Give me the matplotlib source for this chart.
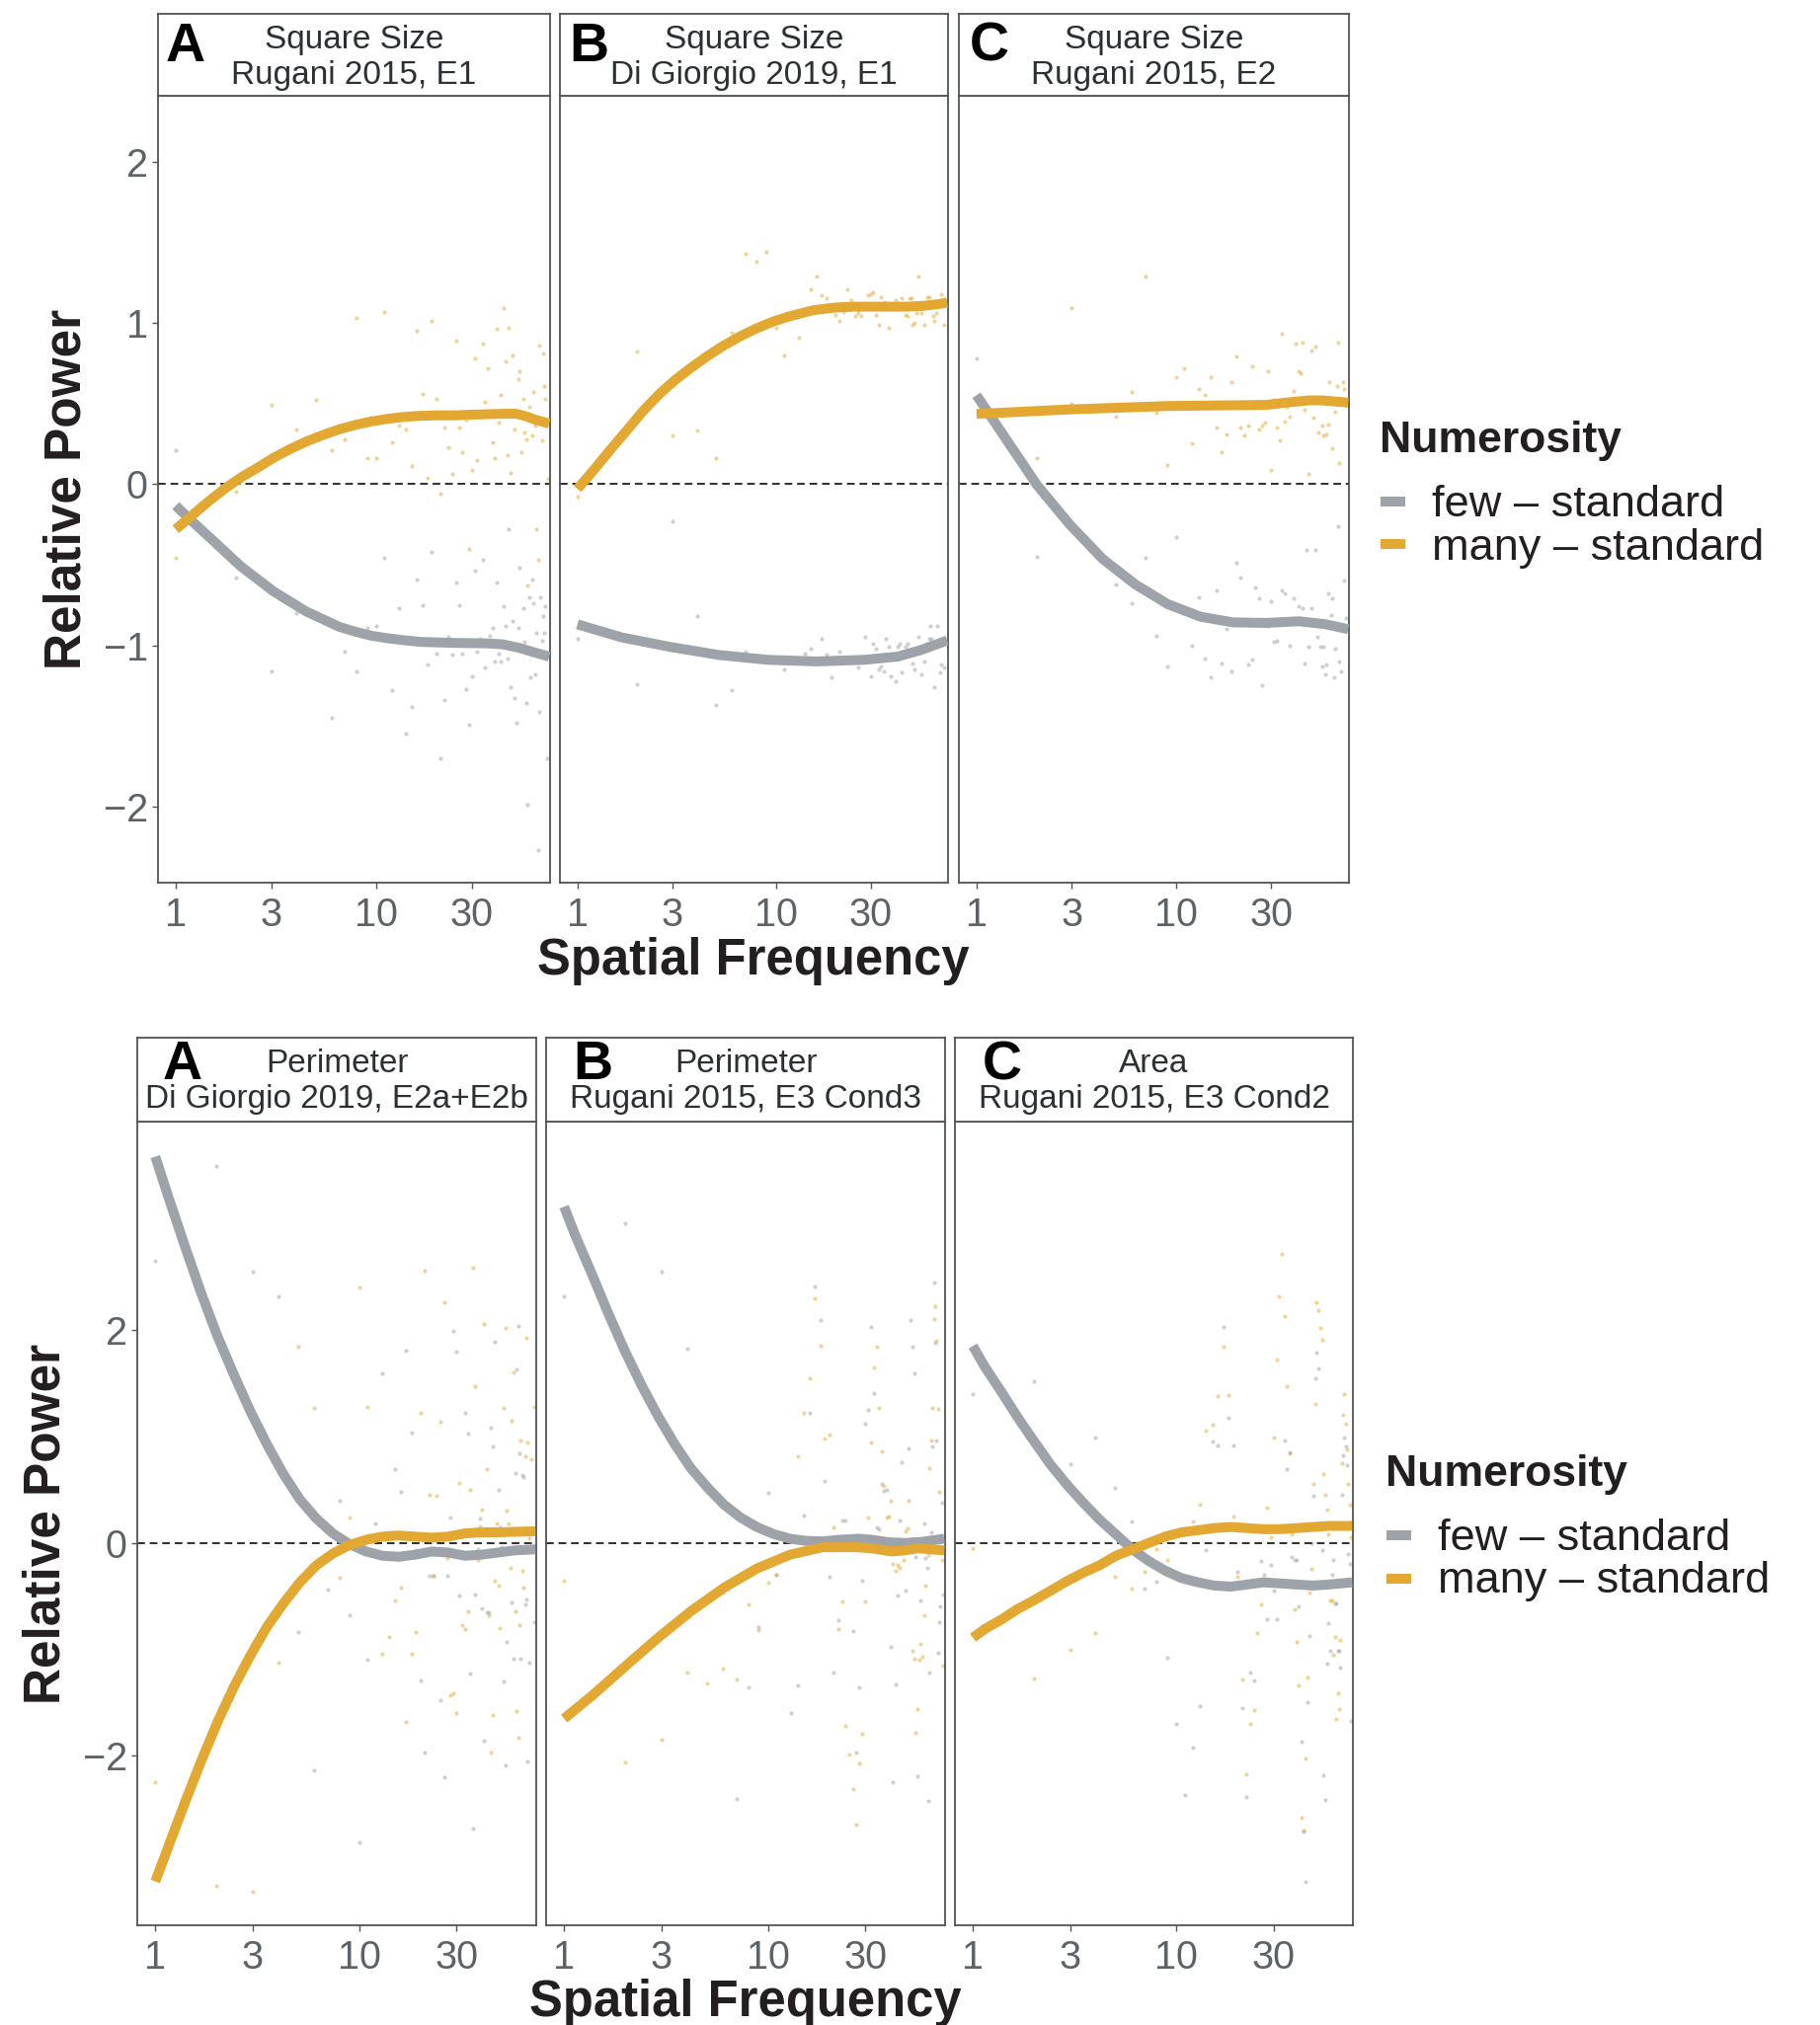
import matplotlib
matplotlib.use("Agg")
import matplotlib.pyplot as plt
from matplotlib.patches import Rectangle


FIG_W, FIG_H = 1843, 2051
DPI = 100

GREY = "#9ea3aa"
ORANGE = "#e3a832"
TICK_GREY = "#5c6266"
FRAME = "#4f5457"
STRIP_TEXT = "#2b3032"
TEXT = "#231f20"

plt.rcParams["font.family"] = ["Liberation Sans", "DejaVu Sans"]

freq_ticks = [1, 3, 10, 30]
top_y_ticks = [-2, -1, 0, 1, 2]
bottom_y_ticks = [-2, 0, 2]
legend_title = "Numerosity"
legend_labels = ["few \u2013 standard", "many \u2013 standard"]

# ---------------- top row: square size ----------------
top_titles = [("Square Size", "Rugani 2015, E1"),
              ("Square Size", "Di Giorgio 2019, E1"),
              ("Square Size", "Rugani 2015, E2")]

sqA_few_line = [(1.0, -0.134), (1.2, -0.228), (1.45, -0.322), (1.75, -0.416), (2.11, -0.51),
                (2.55, -0.588), (3.08, -0.666), (3.72, -0.729), (4.49, -0.791), (5.42, -0.838),
                (6.53, -0.885), (7.89, -0.916), (9.5, -0.941), (11.5, -0.957), (13.9, -0.969),
                (16.7, -0.979), (24.4, -0.985), (35.5, -0.988), (42.9, -0.994), (51.8, -1.016),
                (60, -1.04), (73, -1.07)]
sqA_many_line = [(1.0, -0.28), (1.2, -0.197), (1.45, -0.11), (1.75, -0.03), (2.11, 0.04),
                 (2.55, 0.10), (3.08, 0.163), (3.72, 0.217), (4.49, 0.264), (5.42, 0.304),
                 (6.53, 0.339), (7.89, 0.367), (9.5, 0.389), (11.5, 0.405), (13.9, 0.417),
                 (16.7, 0.423), (20.2, 0.426), (24.4, 0.426), (29.4, 0.43), (35.5, 0.433),
                 (42.9, 0.436), (49.9, 0.436), (56, 0.42), (62.5, 0.398), (73, 0.375)]
sqA_few_pts = [(1, 0.21), (2, -0.58), (3, -1.16), (4, -0.80), (6, -1.45), (7, -1.04), (8, -1.16),
               (9, -0.89), (10, -0.88), (11, -0.46), (12, -1.28), (13, -0.77), (14, -1.55),
               (15, -1.38), (16, -0.59), (17, -0.75), (18, -1.12), (19, -0.42), (20, -1.05),
               (21, -1.70), (22, -1.34), (23, -0.95), (24, -1.06), (25, -0.61), (26, -0.75),
               (27, -1.05), (28, -1.27), (29, -1.49), (30, -1.19), (31, -0.54), (32, -1.04),
               (33, -0.96), (34, -0.47), (35, -1.14), (37, -0.94), (38, -0.89), (39, -1.10),
               (40, -0.61), (41, -1.05), (42, -1.10), (43, -0.76), (44, -0.88), (45, -1.08),
               (46, -0.28), (47, -1.26), (48, -0.85), (49, -1.33), (50, -1.48), (51, -0.89),
               (52, -0.52), (54, -0.77), (55, -0.98), (56, -1.36), (57, -1.99), (58, -0.70),
               (59, -1.20), (60, -0.59), (61, -0.74), (62, -1.18), (63, -0.92), (64, -2.27),
               (65, -1.41), (66, -0.70), (67, -0.97), (68, -0.82), (69, -0.92), (70, -0.76),
               (71, -1.70)]
sqA_many_pts = [(1, -0.46), (2, -0.05), (3, 0.49), (4, 0.34), (5, 0.52), (6, 0.21), (7, 0.28),
                (8, 1.03), (9, 0.16), (10, 0.16), (11, 1.07), (12, 0.26), (13, 0.36), (14, 0.34),
                (15, 0.11), (16, 0.95), (17, 0.56), (18, 0.04), (19, 1.01), (20, 0.53),
                (21, -0.06), (22, 0.35), (23, 0.23), (24, 0.06), (25, 0.89), (26, 0.35),
                (27, 0.20), (28, 0.40), (29, -0.40), (30, 0.09), (31, 0.78), (32, 0.15),
                (34, 0.87), (35, 0.51), (36, 0.72), (38, 0.26), (39, 0.16), (40, 0.96),
                (41, 0.38), (42, 0.55), (43, 1.09), (44, 0.76), (45, 0.18), (46, 0.97),
                (47, 0.07), (48, 0.80), (49, 0.34), (51, 0.65), (52, 0.70), (53, 0.20),
                (54, 0.53), (55, 0.32), (56, 0.28), (57, -0.63), (58, 0.48), (60, 0.30),
                (61, 0.57), (62, 0.36), (63, -0.28), (64, -0.47), (65, 0.86), (67, 0.27),
                (68, 0.81), (69, 0.61), (70, 0.53), (72, 0.03)]

sqB_few_line = [(1.0, -0.87), (1.66, -0.95), (2.93, -1.01), (5.16, -1.06), (9.1, -1.09),
                (16, -1.10), (28, -1.09), (41, -1.07), (53.6, -1.03), (73, -0.97)]
sqB_many_line = [(1.0, -0.03), (1.2, 0.083), (1.45, 0.206), (1.76, 0.328), (2.12, 0.447),
                 (2.56, 0.553), (3.1, 0.645), (3.74, 0.722), (4.52, 0.794), (5.46, 0.859),
                 (6.6, 0.916), (7.97, 0.965), (9.6, 1.006), (11.6, 1.039), (15.4, 1.078),
                 (20, 1.095), (25, 1.10), (35, 1.10), (45, 1.10), (55, 1.105), (65, 1.115),
                 (73, 1.125)]
sqB_few_pts = [(1, -0.96), (2, -1.24), (3, -0.23), (4, -0.82), (5, -1.37), (6, -1.28), (7, -1.04),
               (11, -1.15), (14, -1.05), (15, -1.02), (17, -0.96), (18, -1.06), (19, -1.20),
               (21, -1.04), (26, -1.14), (28, -0.95), (30, -1.19), (31, -0.99), (32, -1.02),
               (33, -1.15), (34, -1.13), (35, -1.16), (36, -0.96), (37, -1.01), (38, -1.19),
               (40, -1.22), (41, -1.01), (42, -0.99), (43, -1.17), (45, -1.01), (46, -0.99),
               (48, -1.04), (49, -1.11), (50, -1.15), (52, -0.95), (54, -1.18), (56, -1.10),
               (57, -0.99), (59, -0.96), (60, -0.88), (61, -0.96), (63, -1.26), (65, -0.88),
               (67, -1.17), (68, -1.12), (70, -1.14)]
sqB_many_pts = [(1, -0.08), (2, 0.82), (3, 0.30), (4, 0.33), (5, 0.16), (6, 0.94), (7, 1.43),
                (8, 1.38), (9, 1.44), (10, 0.97), (11, 0.80), (12, 1.06), (13, 0.91), (15, 1.21),
                (16, 1.29), (17, 1.17), (18, 1.15), (20, 1.05), (21, 1.01), (22, 1.07),
                (23, 1.21), (24, 1.14), (25, 1.04), (26, 1.06), (27, 1.04), (28, 1.12),
                (29, 1.17), (30, 1.18), (31, 1.19), (32, 1.05), (33, 0.99), (34, 1.16),
                (35, 1.13), (36, 1.12), (37, 0.97), (38, 1.11), (40, 1.14), (43, 1.15),
                (45, 1.05), (46, 1.04), (47, 1.15), (48, 1.15), (49, 0.99), (50, 1.00),
                (51, 1.06), (52, 1.29), (54, 1.06), (56, 0.99), (58, 1.16), (59, 1.16),
                (62, 1.04), (63, 1.01), (64, 1.06), (68, 1.18), (70, 0.99)]

sqC_few_line = [(1.0, 0.551), (1.38, 0.294), (2.01, -0.006), (2.94, -0.252), (4.28, -0.463),
                (6.25, -0.622), (9.1, -0.745), (13.3, -0.823), (19.4, -0.858), (28.4, -0.861),
                (41.4, -0.851), (56, -0.869), (73, -0.90)]
sqC_many_line = [(1.0, 0.435), (2.94, 0.463), (9.1, 0.484), (28.4, 0.491), (35.5, 0.505),
                 (46.5, 0.519), (54, 0.519), (73, 0.505)]
sqC_few_pts = [(1, 0.78), (2, -0.45), (3, 0.50), (5, -0.62), (6, -0.74), (7, -0.46), (8, -0.94),
               (9, -1.13), (10, -0.33), (11, -0.80), (12, -1.00), (13, -0.70), (14, -1.08),
               (15, -1.20), (16, -0.66), (17, -1.11), (18, -0.90), (19, -1.16), (20, -0.49),
               (21, -0.58), (23, -1.12), (24, -1.09), (25, -0.64), (26, -0.71), (27, -1.25),
               (29, -0.88), (30, -0.73), (31, -0.98), (32, -0.97), (34, -0.66), (35, -0.68),
               (37, -1.00), (39, -0.71), (41, -0.76), (43, -0.77), (44, -1.11), (45, -0.41),
               (46, -1.01), (48, -0.77), (50, -0.41), (51, -0.95), (53, -1.01), (54, -1.13),
               (55, -1.01), (56, -1.18), (57, -1.12), (58, -0.68), (60, -0.81), (61, -0.71),
               (62, -1.20), (63, -1.02), (65, -0.26), (66, -1.10), (67, -1.16), (70, -0.60),
               (71, -0.83)]
sqC_many_pts = [(1, 0.52), (2, 0.16), (3, 1.09), (4, -0.45), (5, 0.42), (6, 0.57), (7, 1.29),
                (8, 0.44), (9, 0.12), (10, 0.66), (11, 0.72), (12, 0.25), (13, 0.59), (14, 0.55),
                (15, 0.66), (16, 0.35), (17, 0.20), (18, 0.31), (19, 0.63), (20, 0.79),
                (21, 0.35), (22, 0.30), (23, 0.36), (24, 0.73), (26, 0.34), (27, 0.36),
                (28, 0.38), (29, 0.70), (30, 0.09), (31, 0.52), (32, 0.35), (33, 0.27),
                (34, 0.93), (35, 0.39), (36, 0.48), (37, 0.42), (39, 0.58), (40, 0.87),
                (41, 0.70), (42, 0.69), (43, 0.88), (44, 0.46), (46, 0.06), (48, 0.83),
                (49, 0.41), (50, 0.85), (52, 0.32), (54, 0.36), (55, 0.30), (57, 0.31),
                (58, 0.37), (59, 0.63), (61, 0.22), (63, 0.45), (64, 0.61), (65, 0.88),
                (66, 0.13), (69, 0.63), (70, 0.59)]

# ---------------- bottom row: perimeter / area ----------------
bottom_titles = [("Perimeter", "Di Giorgio 2019, E2a+E2b"),
                 ("Perimeter", "Rugani 2015, E3 Cond3"),
                 ("Area", "Rugani 2015, E3 Cond2")]

pmA_few_line = [(1.0, 3.63), (1.15, 3.27), (1.39, 2.80), (1.67, 2.36), (2.01, 1.95), (2.43, 1.58),
                (2.92, 1.24), (3.52, 0.93), (4.24, 0.65), (5.11, 0.41), (6.16, 0.23), (7.42, 0.09),
                (8.93, -0.01), (10.8, -0.08), (13, -0.12), (15.6, -0.13), (18.8, -0.11),
                (22.7, -0.08), (27.3, -0.09), (33, -0.12), (39.7, -0.11), (47.8, -0.09),
                (57.6, -0.07), (73, -0.06)]
pmA_many_line = [(1.0, -3.18), (1.15, -2.87), (1.39, -2.45), (1.67, -2.06), (2.01, -1.69),
                 (2.43, -1.35), (2.92, -1.06), (3.52, -0.79), (4.24, -0.57), (5.11, -0.37),
                 (6.16, -0.21), (7.42, -0.10), (8.93, -0.02), (10.8, 0.03), (13, 0.06),
                 (15.6, 0.07), (18.8, 0.06), (22.7, 0.05), (27.3, 0.06), (33, 0.09),
                 (39.7, 0.10), (47.8, 0.10), (73, 0.11)]
pmA_few_pts = [(1, 2.65), (2, 3.54), (3, 2.55), (4, 2.32), (5, -0.84), (6, -2.14), (7, -0.44),
               (8, 0.40), (9, -0.68), (10, -2.81), (11, -1.10), (12, 0.18), (13, 1.59), (14, 0.10),
               (15, 0.69), (16, 0.48), (17, 1.81), (18, 1.04), (19, -0.07), (20, -1.29),
               (21, -1.97), (22, -0.31), (23, -0.31), (24, 0.04), (25, -1.48), (26, -2.20),
               (27, -0.31), (28, 0.24), (29, 1.99), (30, 1.80), (31, -0.49), (33, 1.22),
               (34, 1.03), (35, -1.23), (36, -2.68), (37, -0.48), (38, -0.06), (39, 0.23),
               (40, -0.61), (41, -1.86), (42, -0.65), (43, -0.65), (44, 1.08), (45, 0.91),
               (46, 1.89), (48, 0.50), (49, 0.15), (50, -0.04), (51, -1.30), (52, -2.09),
               (53, -0.93), (56, -0.56), (57, -1.09), (58, 0.66), (59, 1.63), (60, 2.04),
               (61, 0.84), (62, -1.09), (63, 0.64), (64, 0.62), (65, -0.58), (66, -0.53),
               (67, -2.05), (68, -1.12), (72, -0.74)]
pmA_many_pts = [(1, -2.25), (2, -3.22), (3, -3.28), (4, -1.12), (5, 1.84), (6, 1.27), (8, -0.33),
                (9, 0.24), (10, 2.40), (11, 1.28), (13, -1.04), (14, -0.88), (15, -0.54),
                (16, -0.42), (17, -1.68), (18, -1.04), (19, -0.84), (20, 1.22), (21, 2.56),
                (22, 0.45), (23, -0.31), (24, 0.44), (25, 1.14), (26, 2.26), (27, -0.14),
                (28, -1.43), (29, -1.41), (30, -1.60), (31, 0.56), (32, -0.77), (33, -0.81),
                (34, -0.64), (35, 0.50), (36, 2.59), (37, 1.47), (38, -0.16), (39, 0.16),
                (40, 0.31), (41, 2.06), (42, 0.69), (43, -0.68), (44, -1.97), (45, -1.62),
                (46, -0.35), (47, 0.18), (48, -0.40), (49, -0.80), (51, 1.27), (52, 2.02),
                (53, 0.30), (54, 0.18), (55, -0.23), (56, 1.15), (57, 1.60), (58, -0.64),
                (59, -1.58), (60, -1.83), (61, -0.77), (62, 0.96), (63, -0.26), (64, -0.42),
                (65, 0.81), (66, 1.93), (67, 0.94), (68, 0.04), (70, 0.79), (72, 1.28)]

pmB_few_line = [(1.0, 3.16), (1.14, 2.88), (1.38, 2.51), (1.66, 2.14), (1.99, 1.80), (2.40, 1.48),
                (2.89, 1.19), (3.48, 0.93), (4.19, 0.70), (5.05, 0.52), (6.08, 0.36), (7.32, 0.24),
                (8.81, 0.15), (10.6, 0.085), (12.8, 0.04), (15.3, 0.02), (18.5, 0.015),
                (22.3, 0.03), (27.8, 0.04), (32.3, 0.03), (38.9, 0.007), (46.8, 0.0),
                (56.4, 0.01), (73, 0.04)]
pmB_many_line = [(1.0, -1.65), (1.38, -1.43), (1.99, -1.16), (2.89, -0.89), (4.19, -0.64),
                 (6.08, -0.42), (8.81, -0.24), (12.8, -0.11), (18.5, -0.04), (26.8, -0.04),
                 (32.3, -0.05), (40.3, -0.08), (46.8, -0.07), (54.3, -0.05), (73, -0.07)]
pmB_few_pts = [(1, 2.32), (2, 3.00), (3, 2.55), (4, 1.83), (6, -0.47), (7, -2.40), (8, -1.36),
               (9, -0.79), (10, 0.47), (11, -0.30), (13, -1.60), (14, -1.34), (15, 0.26),
               (16, 1.22), (17, 2.41), (18, 2.09), (19, 0.58), (20, -0.32), (21, -1.22),
               (22, -0.73), (23, 0.21), (24, 0.21), (26, -0.83), (27, -1.97), (28, -1.36),
               (29, -0.35), (30, 1.12), (31, 1.25), (32, 2.03), (33, 1.41), (34, 0.15),
               (35, 0.13), (36, 0.55), (37, 0.49), (38, 0.50), (40, -0.98), (41, -2.25),
               (42, -1.33), (43, -0.49), (44, 0.21), (45, 0.76), (47, -0.45), (48, -0.05),
               (49, 0.89), (50, 2.09), (51, 1.84), (52, 1.59), (53, -0.13), (54, -2.19),
               (56, -0.54), (58, 0.18), (59, -0.14), (60, -0.23), (61, -2.42), (62, -1.22),
               (63, 0.10), (64, 0.91), (65, 2.45), (66, 1.88), (67, 0.96), (68, -1.03),
               (69, -0.74), (70, -0.60), (71, 0.38), (72, -0.48)]
pmB_many_pts = [(1, -0.35), (2, -2.06), (3, -1.85), (4, -1.22), (5, -1.32), (6, -1.18), (7, -1.28),
                (8, -0.58), (9, -0.82), (10, -0.37), (11, -0.30), (14, 0.81), (15, 1.22),
                (16, 1.55), (17, 2.30), (18, 1.85), (19, 0.98), (20, 1.02), (21, 0.15),
                (22, -0.81), (23, -0.55), (24, -1.72), (25, -1.99), (26, -2.31), (27, -2.65),
                (28, -2.07), (29, -1.79), (30, -0.55), (31, 0.24), (32, 0.94), (33, 1.65),
                (34, 1.84), (35, 1.27), (36, 0.86), (37, 0.54), (38, 0.24), (39, 0.25),
                (40, 0.40), (41, -0.20), (42, -0.26), (43, -0.21), (44, -0.23), (46, -0.16),
                (47, 0.11), (48, 0.14), (49, 0.40), (50, 0.03), (51, -1.01), (52, -1.09),
                (53, -1.78), (54, -1.56), (55, -1.10), (56, -0.95), (57, -1.07), (58, -0.68),
                (59, -0.40), (61, -0.11), (62, 0.70), (63, 0.96), (64, 1.27), (65, 2.10),
                (66, 2.22), (67, 1.90), (68, 1.26), (69, 0.48), (71, -0.16), (72, -1.15)]

arC_few_line = [(1.0, 1.85), (1.14, 1.66), (1.38, 1.42), (1.66, 1.18), (1.99, 0.96), (2.40, 0.74),
                (2.89, 0.55), (3.48, 0.38), (4.19, 0.22), (5.05, 0.08), (6.08, -0.06),
                (7.32, -0.17), (8.81, -0.26), (10.6, -0.33), (12.8, -0.37), (15.3, -0.40),
                (18.5, -0.41), (22.3, -0.39), (26.8, -0.37), (32.3, -0.38), (38.9, -0.39),
                (46.8, -0.40), (56.4, -0.39), (73, -0.37)]
arC_many_line = [(1.0, -0.89), (1.14, -0.81), (1.38, -0.72), (1.66, -0.62), (1.99, -0.54),
                 (2.40, -0.45), (2.89, -0.36), (3.48, -0.28), (4.19, -0.21), (5.05, -0.12),
                 (6.08, -0.06), (7.32, 0.0), (8.81, 0.06), (10.6, 0.10), (12.8, 0.12),
                 (15.3, 0.14), (18.5, 0.15), (22.3, 0.14), (26.8, 0.13), (32.3, 0.13),
                 (38.9, 0.14), (46.8, 0.15), (56.4, 0.16), (73, 0.16)]
arC_few_pts = [(1, 1.40), (2, 1.52), (3, 0.74), (4, 0.99), (5, 0.52), (6, 0.20), (7, -0.43),
               (8, -0.36), (9, -1.08), (10, -1.70), (11, -2.37), (12, -1.92), (13, -1.53),
               (14, -0.07), (15, 0.95), (16, 0.92), (17, 2.03), (18, 1.18), (19, 0.92),
               (20, -0.27), (21, -1.55), (22, -2.39), (23, -1.22), (24, -1.29), (26, -0.17),
               (27, -0.30), (28, -0.72), (29, -0.21), (30, -0.45), (31, -0.72), (33, 0.12),
               (34, 0.96), (35, 0.69), (36, 0.85), (37, -0.13), (38, -0.16), (39, -0.16),
               (40, -0.60), (41, -1.87), (42, -2.71), (43, -3.18), (44, -1.50), (45, -0.87),
               (46, 0.0), (47, 0.44), (48, 1.55), (49, 1.79), (50, 1.64), (52, -0.07),
               (53, -2.18), (54, -2.41), (55, -1.13), (56, -0.75), (57, -1.01), (58, -0.30),
               (59, -0.16), (60, -0.57), (61, -0.57), (62, -1.01), (63, -1.01), (64, -1.17),
               (65, 0.45), (66, 0.82), (67, 0.99), (68, 0.91), (69, 0.73), (70, -0.10),
               (71, -0.20), (72, -1.67)]
arC_many_pts = [(1, -0.05), (2, -1.27), (3, -1.00), (4, -0.85), (5, -0.32), (6, -0.43), (7, -0.27),
                (8, -0.06), (9, -0.16), (11, 0.13), (12, 0.20), (13, 0.36), (14, 1.06),
                (15, 1.11), (16, 1.38), (17, 1.84), (18, 1.39), (19, 0.25), (20, -0.32),
                (21, -1.28), (22, -2.17), (23, -1.70), (24, -1.57), (25, -0.85), (26, -0.58),
                (28, 0.33), (29, 0.05), (30, 0.99), (31, 1.72), (32, 2.32), (33, 2.72),
                (34, 2.13), (35, 1.47), (36, 0.84), (37, 0.08), (38, -0.62), (39, -0.93),
                (40, -1.34), (41, -2.58), (42, -2.70), (43, -2.02), (44, -1.26), (45, -0.47),
                (46, -0.24), (47, 0.55), (48, 1.31), (49, 2.26), (50, 2.19), (51, 2.02),
                (52, 1.91), (53, 0.65), (54, 0.45), (55, 0.31), (56, 0.08), (57, -0.54),
                (58, -0.54), (59, -1.05), (60, -0.88), (61, -1.65), (62, -1.41), (63, -1.56),
                (64, -0.91), (65, 0.75), (66, 1.20), (67, 1.40), (68, 1.12), (69, 0.88),
                (70, 0.55), (71, 0.36), (72, 0.05)]


# ---------------- layout (pixel positions in the 1843 x 2051 image) ----------------
def box(left, top, right, bottom):
    return [left / FIG_W, 1 - bottom / FIG_H, (right - left) / FIG_W, (bottom - top) / FIG_H]


def fx(x):
    return x / FIG_W


def fy(y):
    return 1 - y / FIG_H


def split(pairs):
    return [p[0] for p in pairs], [p[1] for p in pairs]


def draw_panel(fig, xspan, strip, plot, ylim, yticks, first, title, letter, letter_dx,
               letter_base, few_line, many_line, few_pts, many_pts):
    left, right = xspan
    top, bottom = plot

    ax = fig.add_axes(box(left, top, right, bottom))
    x, y = split(few_pts)
    ax.scatter(x, y, s=9, color=GREY, alpha=0.5, linewidths=0, zorder=1)
    x, y = split(many_pts)
    ax.scatter(x, y, s=9, color=ORANGE, alpha=0.5, linewidths=0, zorder=1)
    ax.axhline(0, color="#2e2e2e", lw=1.4, ls=(0, (4, 2.5)), zorder=2)
    x, y = split(few_line)
    ax.plot(x, y, color=GREY, lw=7.2, solid_capstyle="butt", solid_joinstyle="round", zorder=3)
    x, y = split(many_line)
    ax.plot(x, y, color=ORANGE, lw=7.2, solid_capstyle="butt", solid_joinstyle="round", zorder=4)

    ax.set_xscale("log")
    ax.set_xlim(0.816, 73.7)
    ax.set_ylim(*ylim)
    ax.set_xticks(freq_ticks)
    ax.set_xticklabels([str(t) for t in freq_ticks])
    ax.minorticks_off()
    ax.set_yticks(yticks)
    if first:
        ax.set_yticklabels([f"{t:g}".replace("-", "\u2212") for t in yticks])
    else:
        ax.tick_params(axis="y", left=False, labelleft=False)
    ax.tick_params(axis="both", length=4.3, width=1.0, color=FRAME, labelcolor=TICK_GREY,
                   labelsize=28.5)
    ax.tick_params(axis="x", pad=5.5)
    ax.tick_params(axis="y", pad=3)
    for sp in ax.spines.values():
        sp.set_color(FRAME)
        sp.set_linewidth(1.3)

    s_top, s_bot = strip
    sax = fig.add_axes(box(left, s_top, right, s_bot))
    sax.set_xticks([])
    sax.set_yticks([])
    for sp in sax.spines.values():
        sp.set_color(FRAME)
        sp.set_linewidth(1.3)
    cx = fx((left + right) / 2)
    fig.text(cx, fy(s_top + 35), title[0], ha="center", va="baseline", fontsize=24,
             color=STRIP_TEXT)
    fig.text(cx, fy(s_top + 71), title[1], ha="center", va="baseline", fontsize=24,
             color=STRIP_TEXT)
    fig.text(fx(left + letter_dx), fy(letter_base), letter, ha="left", va="baseline",
             fontsize=40, fontweight="bold", color="black")


def draw_legend(fig, x0, y0):
    fig.text(fx(x0), fy(y0), legend_title, ha="left", va="baseline", fontsize=32,
             fontweight="bold", color=TEXT)
    for i, (label, col) in enumerate(zip(legend_labels, [GREY, ORANGE])):
        ky = y0 + 45 + i * 43.5
        fig.add_artist(Rectangle((fx(x0 + 1), fy(ky + 10)), 25 / FIG_W, 10 / FIG_H,
                                 transform=fig.transFigure, color=col, lw=0))
        fig.text(fx(x0 + 53), fy(ky + 20), label, ha="left", va="baseline", fontsize=32.5,
                 color=TEXT)


def main():
    fig = plt.figure(figsize=(FIG_W / DPI, FIG_H / DPI), dpi=DPI)
    fig.patch.set_facecolor("white")

    top_x = [(160, 557), (567, 960), (971, 1366)]
    top_letter_dx = [8, 9, 11]
    top_data = [(sqA_few_line, sqA_many_line, sqA_few_pts, sqA_many_pts),
                (sqB_few_line, sqB_many_line, sqB_few_pts, sqB_many_pts),
                (sqC_few_line, sqC_many_line, sqC_few_pts, sqC_many_pts)]
    for i in range(3):
        draw_panel(fig, top_x[i], (14, 97), (97, 894), (-2.472, 2.408), top_y_ticks, i == 0,
                   top_titles[i], "ABC"[i], top_letter_dx[i], 62, *top_data[i])

    bot_x = [(139, 543), (553, 957), (967, 1370)]
    bot_letter_dx = [26, 27, 28]
    bot_data = [(pmA_few_line, pmA_many_line, pmA_few_pts, pmA_many_pts),
                (pmB_few_line, pmB_many_line, pmB_few_pts, pmB_many_pts),
                (arC_few_line, arC_many_line, arC_few_pts, arC_many_pts)]
    for i in range(3):
        draw_panel(fig, bot_x[i], (1051, 1136), (1136, 1950), (-3.592, 3.959), bottom_y_ticks,
                   i == 0, bottom_titles[i], "ABC"[i], bot_letter_dx[i], 1093, *bot_data[i])

    # axis titles
    fig.text(fx(68), fy(495), "Relative Power", rotation=90, ha="center", va="center",
             fontsize=37, fontweight="bold", color=TEXT)
    fig.text(fx(47), fy(1543), "Relative Power", rotation=90, ha="center", va="center",
             fontsize=37, fontweight="bold", color=TEXT)
    fig.text(fx(763), fy(987), "Spatial Frequency", ha="center", va="baseline",
             fontsize=36.5, fontweight="bold", color=TEXT)
    fig.text(fx(755), fy(2042), "Spatial Frequency", ha="center", va="baseline",
             fontsize=36.5, fontweight="bold", color=TEXT)

    draw_legend(fig, 1397, 458)
    draw_legend(fig, 1403, 1505)

    fig.savefig("out.png", dpi=DPI, facecolor="white")
    plt.close(fig)


if __name__ == "__main__":
    main()
